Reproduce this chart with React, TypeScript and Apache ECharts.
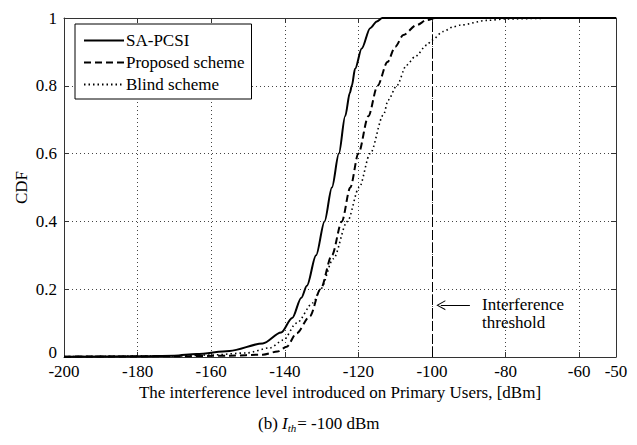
import React, { useEffect, useRef } from "react";
import * as echarts from "echarts";

const seriesNames = ["SA-PCSI", "Proposed scheme", "Blind scheme"];

const sapcsiX = [-200, -180, -170, -164, -155, -146, -141, -138, -135.5, -134, -131.5, -129.2, -127.2, -125.3, -123.6, -122.3, -121.8, -120.9, -119.1, -116.8, -115, -113.5, -50];
const sapcsiY = [0.001, 0.002, 0.004, 0.009, 0.018, 0.04, 0.072, 0.115, 0.175, 0.21, 0.3, 0.4, 0.5, 0.6, 0.71, 0.78, 0.8, 0.85, 0.91, 0.97, 0.99, 1.0, 1.0];

const proposedX = [-200, -170, -155, -146, -142, -139.5, -136.8, -133.2, -130.3, -127.2, -124.5, -122.2, -120, -117.3, -114.8, -112.1, -110, -107.8, -104.2, -101.4, -99, -50];
const proposedY = [0.001, 0.002, 0.004, 0.007, 0.016, 0.03, 0.07, 0.12, 0.2, 0.3, 0.4, 0.5, 0.6, 0.71, 0.8, 0.87, 0.915, 0.95, 0.979, 0.994, 1.0, 1.0];

const blindX = [-200, -170, -160, -150.4, -144, -140.4, -136.8, -132.3, -130.3, -126.8, -123, -119.8, -116.8, -113.2, -111.9, -109.6, -106.9, -104.6, -101.4, -100, -97, -94.2, -92.4, -85, -80, -70, -68, -50];
const blindY = [0.001, 0.003, 0.006, 0.012, 0.027, 0.05, 0.1, 0.16, 0.2, 0.29, 0.4, 0.5, 0.6, 0.714, 0.758, 0.8, 0.861, 0.886, 0.92, 0.935, 0.96, 0.974, 0.979, 0.993, 0.997, 0.999, 1.0, 1.0];

const thresholdX = -100;
const arrowY = 0.153;
const arrowFromX = -89.7;
const arrowToX = -97.6;

const xMin = -200;
const xMax = -50;
const xStep = 20;
const yMin = 0;
const yMax = 1;
const yStep = 0.2;

const FONT = "Liberation Serif, Times New Roman, serif";
const FS = 17;

function pairs(xs: number[], ys: number[]) {
  return xs.map((x, i) => [x, ys[i]]);
}

export default function App() {
  const ref = useRef<HTMLDivElement>(null);
  useEffect(() => {
    if (!ref.current) return;
    const chart = echarts.init(ref.current, null, { renderer: "svg" });
    const axisColor = "#333";
    const common = {
      axisLine: { show: true, onZero: false, lineStyle: { color: axisColor, width: 1 } },
      axisTick: { show: true, inside: true, length: 5, lineStyle: { color: axisColor } },
    };
    const option: any = {
      animation: false,
      backgroundColor: "#fff",
      textStyle: { fontFamily: FONT, color: "#000" },
      grid: { left: 64, right: 21, top: 18, bottom: 88, containLabel: false },
      legend: {
        orient: "vertical",
        left: 75,
        top: 24,
        padding: [8, 7, 6, 8],
        itemGap: 5,
        itemWidth: 40,
        itemHeight: 16,
        borderColor: "#000",
        borderWidth: 1,
        borderRadius: 0,
        backgroundColor: "#fff",
        itemStyle: { opacity: 0, borderWidth: 0 },
        textStyle: { fontFamily: FONT, fontSize: FS, color: "#000", padding: [0, 0, 0, -3] },
        data: seriesNames,
      },
      xAxis: [
        {
          type: "value",
          min: xMin,
          max: xMax,
          interval: xStep,
          name: "The interference level introduced on Primary Users, [dBm]",
          nameLocation: "middle",
          nameGap: 27,
          nameMoveOverlap: false,
          nameTextStyle: { fontFamily: FONT, fontSize: FS, color: "#000" },
          ...common,
          axisLabel: { fontFamily: FONT, fontSize: FS, color: "#000", margin: 6, showMaxLabel: true, showMinLabel: true },
          splitLine: { show: true, lineStyle: { color: "#444", type: [1, 3], width: 1 } },
        },
        {
          type: "value",
          position: "top",
          min: xMin,
          max: xMax,
          interval: xStep,
          ...common,
          axisLabel: { show: false },
          splitLine: { show: false },
        },
      ],
      yAxis: [
        {
          type: "value",
          min: yMin,
          max: yMax,
          interval: yStep,
          name: "CDF",
          nameLocation: "middle",
          nameGap: 34,
          nameMoveOverlap: false,
          nameTextStyle: { fontFamily: FONT, fontSize: FS, color: "#000" },
          ...common,
          axisLabel: {
            fontFamily: FONT,
            fontSize: FS,
            color: "#000",
            margin: 7,
            formatter: (v: number) => (v === 0 ? "{z|0}" : String(v)),
            rich: { z: { fontFamily: FONT, fontSize: FS, color: "#000", padding: [0, 0, 10, 0] } },
          },
          splitLine: { show: true, lineStyle: { color: "#444", type: [1, 3], width: 1 } },
        },
        {
          type: "value",
          position: "right",
          min: yMin,
          max: yMax,
          interval: yStep,
          ...common,
          axisLabel: { show: false },
          splitLine: { show: false },
        },
      ],
      series: [
        {
          name: seriesNames[0],
          type: "line",
          data: pairs(sapcsiX, sapcsiY),
          showSymbol: false,
          symbol: "none",
          smooth: 0.3,
          smoothMonotone: "x",
          lineStyle: { color: "#000", width: 2, type: "solid" },
          itemStyle: { color: "#000" },
          z: 5,
        },
        {
          name: seriesNames[1],
          type: "line",
          data: pairs(proposedX, proposedY),
          showSymbol: false,
          symbol: "none",
          smooth: 0.3,
          smoothMonotone: "x",
          lineStyle: { color: "#000", width: 2, type: [7, 4] },
          itemStyle: { color: "#000" },
          z: 5,
        },
        {
          name: seriesNames[2],
          type: "line",
          data: pairs(blindX, blindY),
          showSymbol: false,
          symbol: "none",
          smooth: 0.3,
          smoothMonotone: "x",
          lineStyle: { color: "#000", width: 1.6, type: [1.5, 3] },
          itemStyle: { color: "#000" },
          z: 5,
          markLine: {
            silent: true,
            animation: false,
            label: { show: false },
            data: [
              [
                { coord: [thresholdX, yMin], symbol: "none", lineStyle: { type: [10, 3], color: "#000", width: 1 } },
                { coord: [thresholdX, yMax], symbol: "none" },
              ],
              [
                { coord: [arrowFromX, arrowY], symbol: "none" },
                {
                  coord: [arrowToX, arrowY],
                  symbol: "path://M5,0 L10,10 L8.8,10 L5,2.2 L1.2,10 L0,10 Z",
                  symbolSize: [10, 9],
                },
              ],
            ],
            lineStyle: { color: "#000", width: 1, type: "solid" },
          },
        },
      ],
      graphic: [
        {
          type: "text",
          left: 482,
          top: 295,
          style: {
            text: "Interference\nthreshold",
            fontFamily: FONT,
            fontSize: FS,
            lineHeight: 18,
            fill: "#000",
            align: "center",
            width: 64,
          },
        },
        {
          type: "text",
          left: 258,
          top: 415,
          style: {
            text: "{n|(b) }{i|I}{s|th}{n|= -100 dBm}",
            rich: {
              n: { fontFamily: FONT, fontSize: 17, lineHeight: 20, color: "#000" },
              i: { fontFamily: FONT, fontSize: 17, fontStyle: "italic", lineHeight: 20, color: "#000" },
              s: { fontFamily: FONT, fontSize: 11, fontStyle: "italic", lineHeight: 20, verticalAlign: "bottom", padding: [0, 1, 0, 0], color: "#000" },
            },
          },
        },
      ],
    };
    chart.setOption(option);
    return () => chart.dispose();
  }, []);
  return <div ref={ref} style={{ width: 637, height: 445, margin: -8 }} />;
}
